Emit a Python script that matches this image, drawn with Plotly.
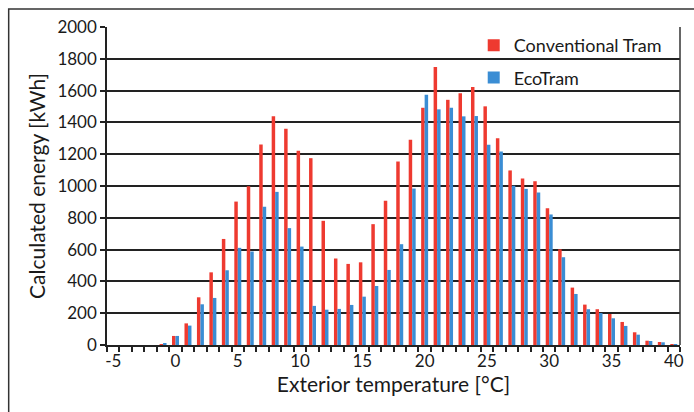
import plotly.graph_objects as go

temps = list(range(-5, 41))
conventional = [0, 0, 0, 0, 5, 57, 136, 300, 457, 667, 902, 999, 1261, 1438, 1360, 1221,
                1175, 781, 544, 510, 520, 760, 907, 1154, 1291, 1492, 1748, 1542, 1584, 1622,
                1501, 1301, 1098, 1047, 1030, 860, 602, 361, 254, 225, 195, 145, 80, 27, 19, 6]
ecotram = [0, 0, 0, 0, 8, 57, 122, 256, 296, 470, 611, 588, 869, 963, 735, 619,
           246, 222, 227, 252, 304, 371, 472, 634, 984, 1574, 1482, 1492, 1438, 1440,
           1259, 1217, 1001, 982, 959, 821, 552, 321, 225, 201, 168, 120, 65, 25, 17, 4]
tick_labels = ["-5", "0", "5", "10", "15", "20", "25", "30", "35", "40"]
tick_vals = [-5, 0, 5, 10, 15, 20, 25, 30, 35, 40]

RED = "#EE3A30"
BLUE = "#3A8DD4"
FONT = "Lato, 'Open Sans', sans-serif"

fig = go.Figure()
fig.add_trace(go.Bar(x=temps, y=conventional, name="Conventional Tram", marker_color=RED,
                     marker_line_width=0, legendgroup="conv"))
fig.add_trace(go.Bar(x=temps, y=ecotram, name="EcoTram", marker_color=BLUE,
                     marker_line_width=0, legendgroup="eco"))

fig.update_layout(
    width=694, height=412,
    margin=dict(l=107, r=10, t=27, b=67),
    paper_bgcolor="white", plot_bgcolor="white",
    barmode="group", bargap=0.44, bargroupgap=0,
    font=dict(family=FONT, size=17, color="#1a1a1a"),
    showlegend=True,
    legend=dict(x=0.64, y=1.0, xanchor="left", yanchor="top",
                bgcolor="rgba(0,0,0,0)", font=dict(size=18, family=FONT),
                tracegroupgap=6, itemwidth=30, traceorder="grouped"),
    xaxis=dict(
        range=[-5.5, 40.5], tickmode="array", tickvals=tick_vals, ticktext=tick_labels,
        ticks="", showgrid=False, zeroline=False,
        showline=True, linecolor="#222", linewidth=1.5, mirror=False,
        minor=dict(ticks="outside", tick0=-5.5, dtick=1, ticklen=5, tickcolor="#222",
                   tickwidth=1.5, showgrid=False),
        title=dict(text="Exterior temperature [°C]", font=dict(size=21, family=FONT), standoff=6),
        tickfont=dict(size=17),
    ),
    yaxis=dict(
        range=[0, 2000], dtick=200, tick0=0,
        showgrid=True, gridcolor="#222", gridwidth=1.5,
        ticks="outside", ticklen=5, tickcolor="#222", tickwidth=1.5,
        showline=True, linecolor="#222", linewidth=1.5, zeroline=False,
        title=dict(text="Calculated energy [kWh]", font=dict(size=21, family=FONT), standoff=6),
        tickfont=dict(size=17),
    ),
)

# plot-area right border
fig.add_shape(type="line", xref="paper", yref="paper", x0=1, x1=1, y0=0, y1=1,
              line=dict(color="#333", width=1.5))
# outer chart frame (left and top edges visible)
fig.add_shape(type="rect", xref="paper", yref="paper",
              x0=-99/577, x1=1.2, y0=-0.3, y1=1 + 18/318,
              line=dict(color="#333", width=1.5), layer="below")

fig.write_html("out.html", config={"displayModeBar": False},
               post_script="document.body.style.margin='0';")
